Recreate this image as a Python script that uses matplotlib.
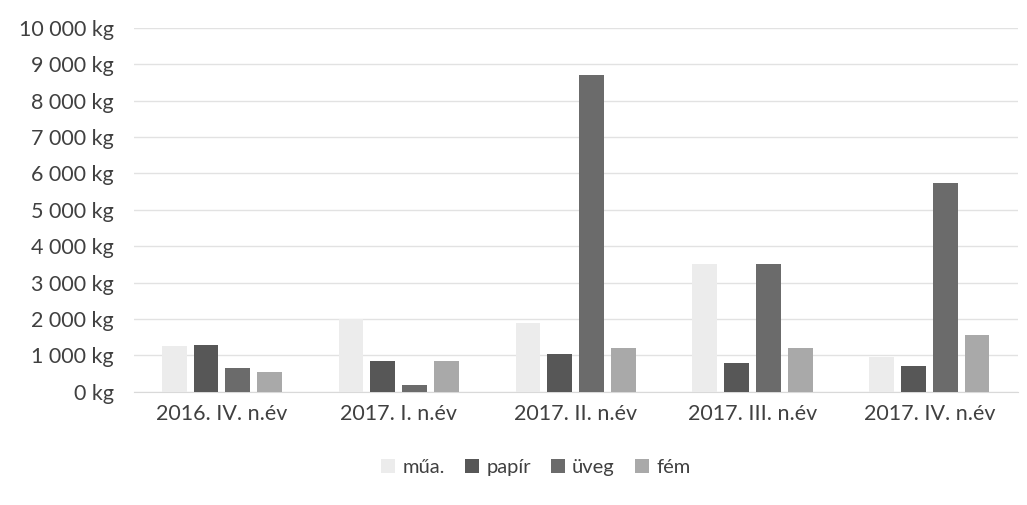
import matplotlib.pyplot as plt
import numpy as np

plt.rcParams['font.family'] = ['Lato', 'DejaVu Sans']

categories = ['2016. IV. n.év', '2017. I. n.év', '2017. II. n.év', '2017. III. n.év', '2017. IV. n.év']
series_names = ['műa.', 'papír', 'üveg', 'fém']
mua = [1250, 2000, 1900, 3500, 950]
papir = [1300, 850, 1050, 800, 700]
uveg = [650, 200, 8700, 3500, 5750]
fem = [550, 850, 1200, 1200, 1550]
values = [mua, papir, uveg, fem]
colors = ['#ececec', '#575757', '#6b6b6b', '#a9a9a9']

fig = plt.figure(figsize=(10.27, 5.05), dpi=100)
ax = fig.add_axes([0.13, 0.224, 0.861, 0.721])

x = np.arange(len(categories))
width = 0.14
step = 0.18
for i, (name, vals) in enumerate(zip(series_names, values)):
    ax.bar(x + (i - 1.5) * step, vals, width, color=colors[i], label=name, zorder=3)

ax.set_ylim(0, 10000)
ax.set_xlim(-0.5, len(categories) - 0.5)
ax.set_yticks(np.arange(0, 10001, 1000))
ax.set_yticklabels([f'{v:,} kg'.replace(',', ' ') for v in range(0, 10001, 1000)])
ax.set_xticks(x)
ax.set_xticklabels(categories)
ax.tick_params(axis='both', length=0, labelsize=15.5, colors='#404040')
ax.tick_params(axis='y', pad=14)
ax.tick_params(axis='x', pad=9)
ax.grid(axis='y', color='#e2e2e2', linewidth=1, zorder=0)
for s in ['top', 'right', 'left']:
    ax.spines[s].set_visible(False)
ax.spines['bottom'].set_color('#d9d9d9')

ax.legend(loc='upper center', bbox_to_anchor=(0.455, -0.135), ncol=4, frameon=False,
          fontsize=14.5, handlelength=0.7, handleheight=0.7, columnspacing=1.0,
          handletextpad=0.35, labelcolor='#404040')

fig.savefig('out.png', dpi=100)
